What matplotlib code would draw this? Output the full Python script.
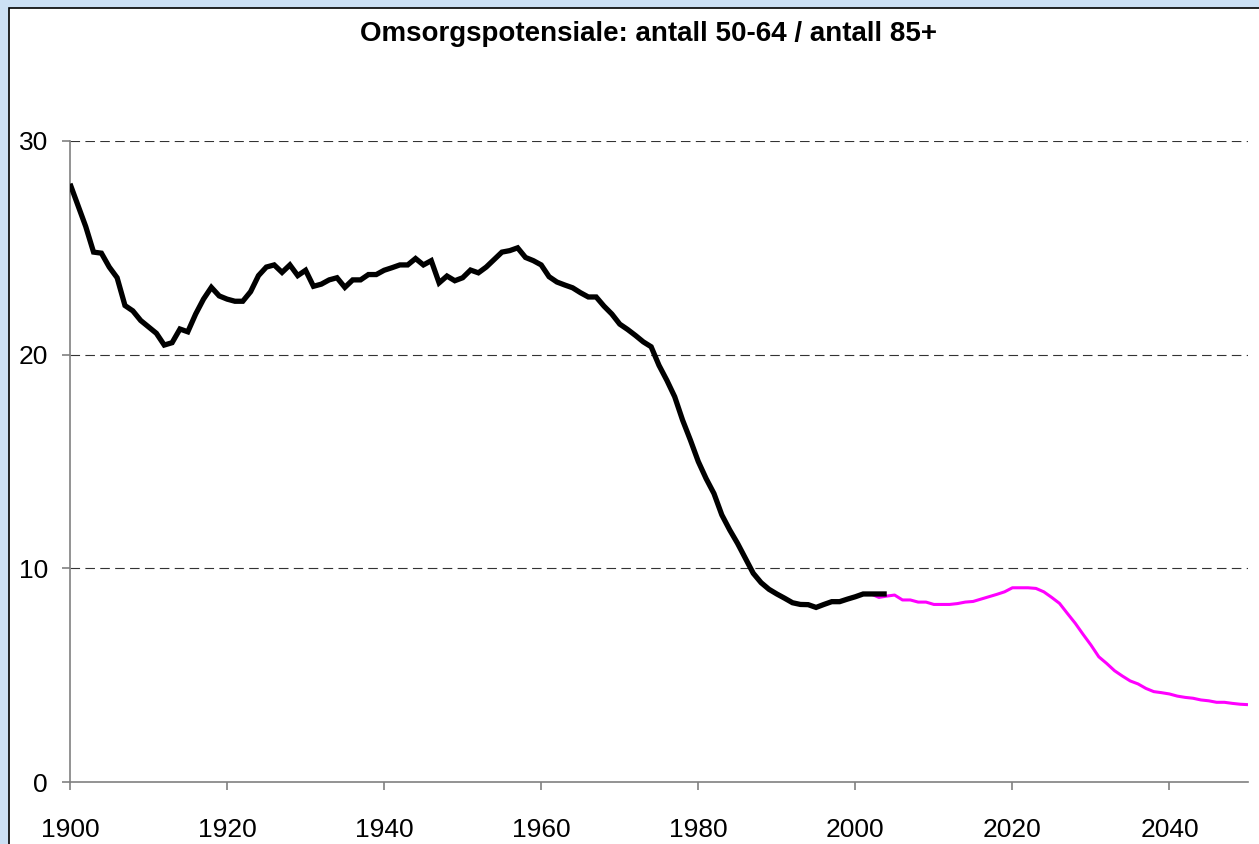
import numpy as np
import matplotlib
matplotlib.use('Agg')
import matplotlib.pyplot as plt
from matplotlib.patches import Rectangle

plt.rcParams['font.family'] = ['Liberation Sans', 'DejaVu Sans']

# registered values, 1900-2004
hist_years = list(range(1900, 2005))
hist_vals = [28.0, 27.0, 26.0, 24.8, 24.75, 24.1, 23.6, 22.3, 22.05, 21.6,
             21.3, 21.0, 20.45, 20.56, 21.2, 21.07, 21.9, 22.6, 23.15, 22.75,
             22.6, 22.5, 22.5, 22.95, 23.7, 24.1, 24.2, 23.85, 24.2, 23.7,
             23.95, 23.2, 23.3, 23.5, 23.6, 23.15, 23.5, 23.5, 23.75, 23.75,
             23.95, 24.07, 24.2, 24.2, 24.5, 24.2, 24.4, 23.36, 23.68, 23.46,
             23.6, 23.96, 23.83, 24.1, 24.45, 24.8, 24.87, 25.0, 24.55, 24.4,
             24.2, 23.65, 23.4, 23.26, 23.13, 22.9, 22.7, 22.7, 22.27, 21.9,
             21.43, 21.18, 20.9, 20.6, 20.37, 19.5, 18.8, 18.03, 16.94, 16.0,
             15.0, 14.2, 13.5, 12.5, 11.8, 11.17, 10.47, 9.77, 9.33, 9.02,
             8.8, 8.6, 8.39, 8.31, 8.3, 8.17, 8.31, 8.44, 8.44, 8.56,
             8.67, 8.8, 8.8, 8.8, 8.8]

# projection, 2002-2050
proj_years = list(range(2002, 2051))
proj_vals = [8.8, 8.64, 8.7, 8.75, 8.52, 8.52, 8.42, 8.42, 8.31, 8.31,
             8.31, 8.35, 8.42, 8.45, 8.56, 8.67, 8.78, 8.9, 9.09, 9.09,
             9.09, 9.06, 8.9, 8.64, 8.36, 7.89, 7.43, 6.91, 6.41, 5.86,
             5.55, 5.21, 4.96, 4.73, 4.59, 4.38, 4.23, 4.18, 4.12, 4.02,
             3.96, 3.92, 3.84, 3.8, 3.73, 3.73, 3.68, 3.64, 3.62]

title = 'Omsorgspotensiale: antall 50-64 / antall 85+'
xticks = [1900, 1920, 1940, 1960, 1980, 2000, 2020, 2040]
yticks = [0, 10, 20, 30]

W, H = 1259, 844
fig = plt.figure(figsize=(W / 100, H / 100), dpi=100)
fig.patch.set_facecolor('#CCE0F4')

# white chart area with black frame
frame = Rectangle((9 / W, -0.05), 1.1, (836 / H) + 0.05,
                  transform=fig.transFigure, facecolor='white',
                  edgecolor='black', linewidth=1.2, zorder=-5)
fig.add_artist(frame)

ax = fig.add_axes([70 / W, 62 / H, (1248 - 70) / W, (782 - 141) / H])
ax.set_facecolor('none')
ax.set_zorder(2)

ax.plot(proj_years, proj_vals, color='#FF00FF', linewidth=2.2, zorder=3,
        solid_capstyle='butt')
ax.plot(hist_years, hist_vals, color='black', linewidth=3.8, zorder=4,
        solid_capstyle='butt', solid_joinstyle='miter')

ax.set_xlim(1900, 2050)
ax.set_ylim(0, 30)
ax.set_xticks(xticks)
ax.set_yticks(yticks)

for v in yticks[1:]:
    ax.axhline(v, color='#333333', linewidth=0.8, linestyle=(0, (8.6, 4.8)),
               zorder=1)

for s in ['top', 'right']:
    ax.spines[s].set_visible(False)
for s in ['left', 'bottom']:
    ax.spines[s].set_color('#808080')
    ax.spines[s].set_linewidth(1.2)

ax.tick_params(axis='both', colors='#808080', labelcolor='black',
               labelsize=19, length=6, width=1.2, direction='out')
ax.tick_params(axis='y', pad=10)
ax.tick_params(axis='x', pad=20)

fig.text(649 / W, 1 - 34 / H, title, ha='center', va='center',
         fontsize=20, fontweight='bold', zorder=3)

fig.savefig('out.png', dpi=100, facecolor=fig.get_facecolor())
